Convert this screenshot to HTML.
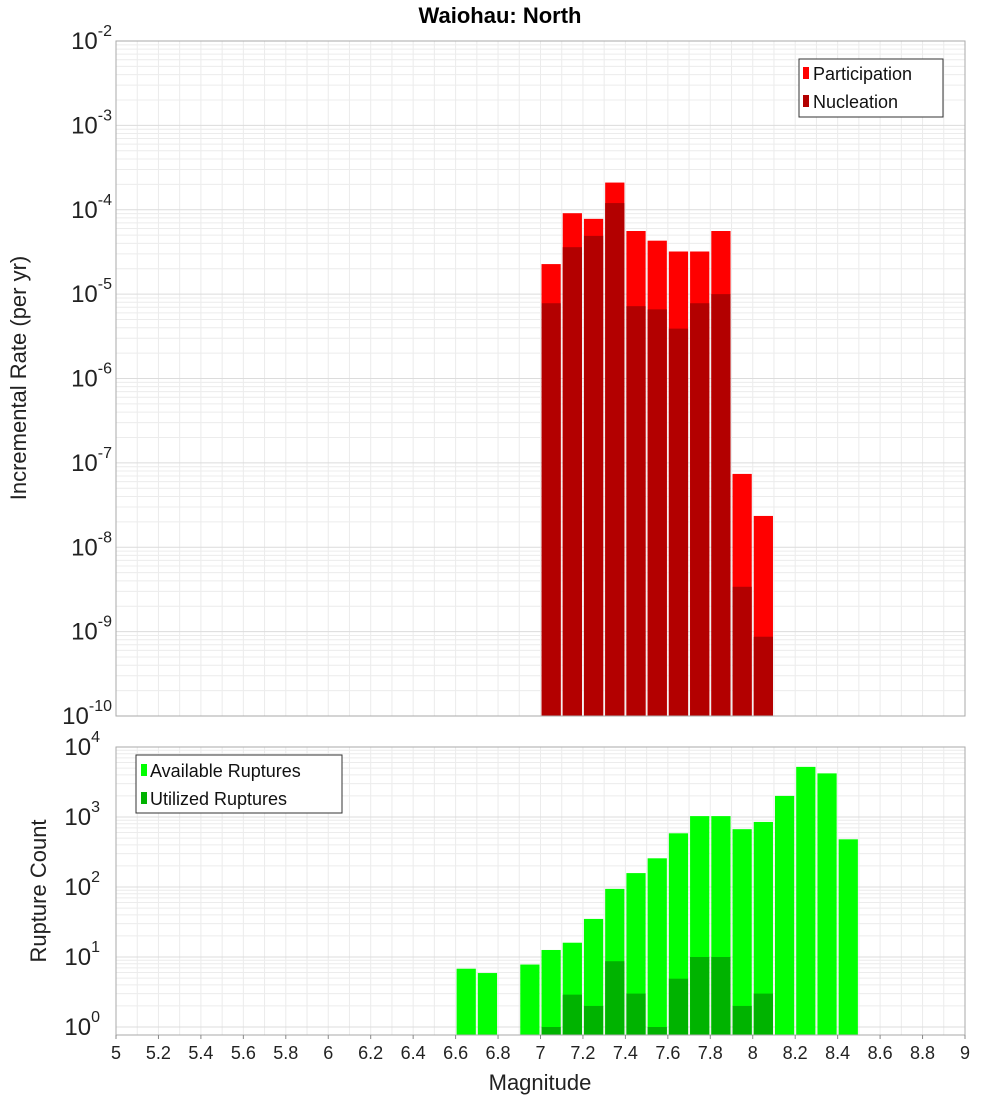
<!DOCTYPE html>
<html><head><meta charset="utf-8"><style>
body{margin:0;background:#fff;}
svg text{font-family:"Liberation Sans","DejaVu Sans",sans-serif;}
</style></head><body>
<svg id="c" width="1000" height="1100" xmlns="http://www.w3.org/2000/svg"></svg>
<script>
const binCenters=[7.05,7.15,7.25,7.35,7.45,7.55,7.65,7.75,7.85,7.95,8.05];
const participation=[2.27e-5,9.1e-5,7.8e-5,2.1e-4,5.6e-5,4.3e-5,3.2e-5,3.2e-5,5.6e-5,7.4e-8,2.35e-8];
const nucleation=[7.8e-6,3.6e-5,4.9e-5,1.2e-4,7.2e-6,6.6e-6,3.9e-6,7.8e-6,1.0e-5,3.4e-9,8.7e-10];
const availMags=[6.65,6.75,6.95,7.05,7.15,7.25,7.35,7.45,7.55,7.65,7.75,7.85,7.95,8.05,8.15,8.25,8.35,8.45];
const availCounts=[6.8,5.9,7.8,12.6,16,35,94,158,257,585,1030,1030,670,850,2000,5200,4200,480];
const usedMags=[7.05,7.15,7.25,7.35,7.45,7.55,7.65,7.75,7.85,7.95,8.05];
const usedCounts=[1,2.9,2,8.7,3,1,4.9,10,10,2,3];
const xTicks=[5,5.2,5.4,5.6,5.8,6,6.2,6.4,6.6,6.8,7,7.2,7.4,7.6,7.8,8,8.2,8.4,8.6,8.8,9];
const topDecades=[-2,-3,-4,-5,-6,-7,-8,-9,-10];
const botDecades=[4,3,2,1,0];

const NS="http://www.w3.org/2000/svg";
const svg=document.getElementById('c');
function el(t,a,p){const e=document.createElementNS(NS,t);for(const k in a)e.setAttribute(k,a[k]);(p||svg).appendChild(e);return e;}
const X0=116,X1=965;
const x=m=>X0+(m-5)*(X1-X0)/4;
const T0=41,T1=716;
const yTop=v=>T0+(-2-Math.log10(v))*(T1-T0)/8;
const B0=747,B1=1035,BD=70;
const yBot=v=>Math.min(B1,B0+(4-Math.log10(v))*BD);

function grid(yFn,y0,y1,decs,minDec){
  const g=el('g',{});
  
  
  for(let m=5;m<=9.001;m+=0.1){const xx=x(m);el('line',{x1:xx,x2:xx,y1:y0,y2:y1,stroke:'#ebebeb','stroke-width':1},g);}
  for(const d of decs){for(let k=1;k<10;k++){const v=k*Math.pow(10,d);const yy=yFn(v);if(yy<y0||yy>y1)continue;el('line',{x1:X0,x2:X1,y1:yy,y2:yy,stroke:k==1?'#dcdcdc':'#ececec','stroke-width':1},g);}}
}
// top panel
el('rect',{x:X0,y:T0,width:X1-X0,height:T1-T0,fill:'#fff',stroke:'none'});
grid(yTop,T0,T1,[-3,-4,-5,-6,-7,-8,-9,-10],0);
binCenters.forEach((m,i)=>{
  const r=el('rect',{x:x(m-0.05)+1,y:yTop(participation[i]),width:x(0.1)-x(0)-2,height:T1-yTop(participation[i]),fill:'#ff0000'});
  
  
  const n=el('rect',{x:x(m-0.05)+1,y:yTop(nucleation[i]),width:x(0.1)-x(0)-2,height:T1-yTop(nucleation[i]),fill:'#b30000'});
  
  
});
el('rect',{x:X0,y:T0,width:X1-X0,height:T1-T0,fill:'none',stroke:'#aaa'});
topDecades.forEach(d=>{
  const t=el('text',{x:112,y:yTop(Math.pow(10,d))+8,'text-anchor':'end','font-size':24,fill:'#222'});
  
  
  t.innerHTML='10<tspan dy="-13" font-size="16">'+d+'</tspan>';
});
// bottom panel
grid(yBot,B0,B1,[0,1,2,3],0);
availMags.forEach((m,i)=>{
  const r=el('rect',{x:x(m-0.05)+1,y:yBot(availCounts[i]),width:x(0.1)-x(0)-2,height:B1-yBot(availCounts[i]),fill:'#00ff00'});
  
  
});
usedMags.forEach((m,i)=>{
  const r=el('rect',{x:x(m-0.05)+1,y:yBot(usedCounts[i]),width:x(0.1)-x(0)-2,height:B1-yBot(usedCounts[i]),fill:'#00b300'});
  
  
});
el('rect',{x:X0,y:B0,width:X1-X0,height:B1-B0,fill:'none',stroke:'#aaa'});
botDecades.forEach(d=>{
  const t=el('text',{x:100,y:yBot(Math.pow(10,d))+8,'text-anchor':'end','font-size':24,fill:'#222'});
  
  
  t.innerHTML='10<tspan dy="-13" font-size="16">'+d+'</tspan>';
});
xTicks.forEach(v=>{
  const t=el('text',{x:x(v),y:1059,'text-anchor':'middle','font-size':18,fill:'#222'});
  
  
  t.textContent=String(v);
  el('line',{x1:x(v),x2:x(v),y1:B1,y2:B1+4,stroke:'#888'});
});
</script>
<svg width="1000" height="1100" style="position:absolute;left:0;top:0" xmlns="http://www.w3.org/2000/svg">
<text x="500" y="23" text-anchor="middle" font-size="22" font-weight="bold" fill="#000">Waiohau: North</text>
<text transform="translate(26,378) rotate(-90)" text-anchor="middle" font-size="22" fill="#222">Incremental Rate (per yr)</text>
<text transform="translate(46,891) rotate(-90)" text-anchor="middle" font-size="22" fill="#222">Rupture Count</text>
<text x="540" y="1090" text-anchor="middle" font-size="22" fill="#222">Magnitude</text>
<g>
<rect x="799" y="59" width="144" height="58" fill="#fff" stroke="#333"/>
<rect x="803" y="67" width="6" height="12" fill="#ff0000"/>
<text x="813" y="80" font-size="18" fill="#111">Participation</text>
<rect x="803" y="95" width="6" height="12" fill="#b30000"/>
<text x="813" y="108" font-size="18" fill="#111">Nucleation</text>
</g>
<g>
<rect x="136" y="755" width="206" height="58" fill="#fff" stroke="#333"/>
<rect x="141" y="764" width="6" height="12" fill="#00ff00"/>
<text x="150" y="777" font-size="18" fill="#111">Available Ruptures</text>
<rect x="141" y="792" width="6" height="12" fill="#00b300"/>
<text x="150" y="805" font-size="18" fill="#111">Utilized Ruptures</text>
</g>
</svg>
</body></html>
